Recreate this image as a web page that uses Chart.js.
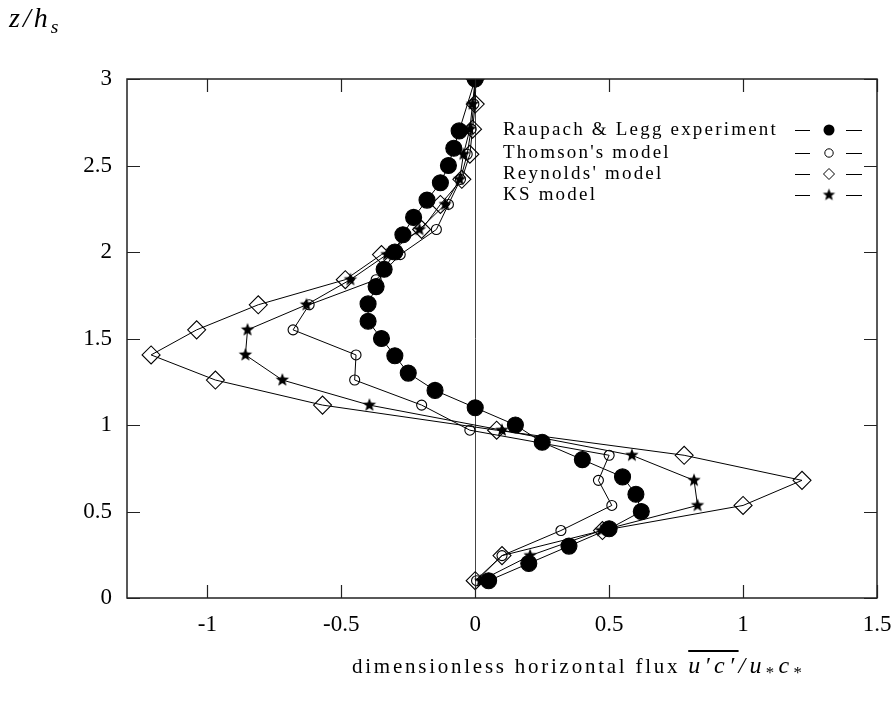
<!DOCTYPE html>
<html>
<head>
<meta charset="utf-8">
<script src="https://cdn.jsdelivr.net/npm/chart.js@4/dist/chart.umd.min.js"></script>
<style>
  html, body { margin: 0; padding: 0; background: #fff; }
  #wrap { position: relative; width: 895px; height: 702px; }
  canvas { position: absolute; left: 0; top: 0; }
  .ttl { position: absolute; font-family: 'Liberation Serif', 'DejaVu Serif', serif; color: #000; white-space: nowrap; }
  .ttl sub { font-size: 0.7em; vertical-align: -0.3em; }
  .ol { text-decoration: overline; }
  .math { font-size: 24px; letter-spacing: 4.3px; }
</style>
</head>
<body>
<div id="wrap">
  <canvas id="c" width="895" height="702"></canvas>
  <div class="ttl" id="ytitle" style="left:9px; top:2px; font-size:28px; font-style:italic; letter-spacing:3px;">z/h<sub>s</sub></div>
  <div class="ttl" id="xtitle" style="left:352px; top:652px; font-size:21px; letter-spacing:2.75px;">dimensionless horizontal flux <span class="math"><i class="ol">u′c′</i><i>/u</i><sub>*</sub><i>c</i><sub>*</sub></span></div>
</div>
<script>
// ---- data ----
const zRaupach = [0.1, 0.2, 0.3, 0.4, 0.5, 0.6, 0.7, 0.8, 0.9, 1.0, 1.1, 1.2, 1.3, 1.4, 1.5, 1.6, 1.7, 1.8, 1.9, 2.0, 2.1, 2.2, 2.3, 2.4, 2.5, 2.6, 2.7, 3.0];
const xRaupach = [0.05, 0.20, 0.35, 0.50, 0.62, 0.60, 0.55, 0.40, 0.25, 0.15, 0.0, -0.15, -0.25, -0.30, -0.35, -0.40, -0.40, -0.37, -0.34, -0.30, -0.27, -0.23, -0.18, -0.13, -0.10, -0.08, -0.06, 0.0];

const zModel = [0.10, 0.245, 0.39, 0.535, 0.68, 0.825, 0.97, 1.115, 1.26, 1.405, 1.55, 1.695, 1.84, 1.985, 2.13, 2.275, 2.42, 2.565, 2.71, 2.855, 3.0];
const xThomson  = [0.005, 0.10, 0.32, 0.51, 0.46, 0.50, -0.02, -0.20, -0.45, -0.445, -0.68, -0.62, -0.37, -0.28, -0.145, -0.10, -0.055, -0.03, -0.015, -0.005, 0.0];
const xReynolds = [0.0, 0.10, 0.475, 1.0, 1.22, 0.78, 0.08, -0.57, -0.97, -1.21, -1.04, -0.81, -0.485, -0.35, -0.20, -0.13, -0.05, -0.02, -0.01, 0.0, 0.0];
const xKS       = [0.02, 0.205, 0.47, 0.83, 0.817, 0.585, 0.10, -0.395, -0.72, -0.858, -0.85, -0.63, -0.466, -0.33, -0.208, -0.112, -0.058, -0.044, -0.02, -0.01, 0.0];

const seriesNames = ["Raupach & Legg experiment", "Thomson's model", "Reynolds' model", "KS model"];
const xTicks = [-1, -0.5, 0, 0.5, 1, 1.5];
const yTicks = [0, 0.5, 1, 1.5, 2, 2.5, 3];
const xMin = -1.3, xMax = 1.5, yMin = 0, yMax = 3;

// ---- helpers ----
function pairs(xs, zs) { return xs.map((v, i) => ({ x: v, y: zs[i] })); }
function makeStar(r) {
  const s = Math.ceil(r * 2 + 2);
  const c = document.createElement('canvas');
  c.width = s; c.height = s;
  const g = c.getContext('2d');
  g.beginPath();
  for (let i = 0; i < 10; i++) {
    const a = -Math.PI / 2 + i * Math.PI / 5;
    const rr = (i % 2) ? r * 0.42 : r;
    g.lineTo(s / 2 + rr * Math.cos(a), s / 2 + rr * Math.sin(a));
  }
  g.closePath();
  g.fillStyle = '#000';
  g.fill();
  return c;
}
const starImg = makeStar(7);
const legendStar = makeStar(6.5);
const FONT = "'Liberation Serif', 'DejaVu Serif', serif";

const lineBase = { showLine: true, borderColor: '#000', borderWidth: 1, pointBorderColor: '#000', pointBorderWidth: 1.1, fill: false, tension: 0 };

const datasets = [
  Object.assign({}, lineBase, { label: seriesNames[0], data: pairs(xRaupach, zRaupach), pointStyle: 'circle', pointRadius: 8, pointBackgroundColor: '#000' }),
  Object.assign({}, lineBase, { label: seriesNames[1], data: pairs(xThomson, zModel), pointStyle: 'circle', pointRadius: 5, pointBackgroundColor: 'rgba(0,0,0,0)' }),
  Object.assign({}, lineBase, { label: seriesNames[2], data: pairs(xReynolds, zModel), pointStyle: 'rectRot', pointRadius: 9, pointBackgroundColor: 'rgba(0,0,0,0)' }),
  Object.assign({}, lineBase, { label: seriesNames[3], data: pairs(xKS, zModel), pointStyle: starImg, pointRadius: 7, pointBackgroundColor: '#000' })
];

// ---- plugins ----
const framePlugin = {
  id: 'frame',
  beforeDatasetsDraw(chart) {
    const { ctx, chartArea: a, scales } = chart;
    const x0 = scales.x.getPixelForValue(0);
    ctx.save();
    ctx.strokeStyle = '#444';
    ctx.lineWidth = 1;
    ctx.beginPath();
    ctx.moveTo(Math.round(x0) + 0.5, a.top);
    ctx.lineTo(Math.round(x0) + 0.5, a.bottom);
    ctx.stroke();
    ctx.restore();
  },
  afterDatasetsDraw(chart) {
    const { ctx, chartArea: a, scales } = chart;
    const tl = 13;
    ctx.save();
    ctx.strokeStyle = '#222';
    ctx.lineWidth = 1.5;
    ctx.strokeRect(a.left, a.top, a.right - a.left, a.bottom - a.top);
    ctx.lineWidth = 1.2;
    ctx.beginPath();
    xTicks.forEach(v => {
      const px = Math.round(scales.x.getPixelForValue(v)) + 0.5;
      ctx.moveTo(px, a.bottom); ctx.lineTo(px, a.bottom - tl);
      ctx.moveTo(px, a.top); ctx.lineTo(px, a.top + tl);
    });
    yTicks.forEach(v => {
      const py = Math.round(scales.y.getPixelForValue(v)) + 0.5;
      ctx.moveTo(a.left, py); ctx.lineTo(a.left + tl, py);
      ctx.moveTo(a.right, py); ctx.lineTo(a.right - tl, py);
    });
    ctx.stroke();
    ctx.restore();
  }
};

const legendPlugin = {
  id: 'customLegend',
  afterDraw(chart) {
    const { ctx } = chart;
    const rowsY = [130, 153, 174, 195];
    const textX = 503;
    const d1a = 795, d1b = 810, mx = 829, d2a = 846, d2b = 862;
    ctx.save();
    ctx.font = "19px " + FONT;
    try { ctx.letterSpacing = '2.2px'; } catch (e) {}
    ctx.fillStyle = '#000';
    ctx.textBaseline = 'middle';
    ctx.textAlign = 'left';
    seriesNames.forEach((name, i) => {
      const y = rowsY[i];
      ctx.fillText(name, textX, y);
      ctx.strokeStyle = '#000';
      ctx.lineWidth = 1;
      ctx.beginPath();
      ctx.moveTo(d1a, y + 0.5); ctx.lineTo(d1b, y + 0.5);
      ctx.moveTo(d2a, y + 0.5); ctx.lineTo(d2b, y + 0.5);
      ctx.stroke();
      ctx.beginPath();
      if (i === 0) {
        ctx.arc(mx, y, 5.5, 0, Math.PI * 2); ctx.fill();
      } else if (i === 1) {
        ctx.arc(mx, y, 4.2, 0, Math.PI * 2); ctx.stroke();
      } else if (i === 2) {
        ctx.moveTo(mx, y - 5.5); ctx.lineTo(mx + 5.5, y); ctx.lineTo(mx, y + 5.5); ctx.lineTo(mx - 5.5, y); ctx.closePath(); ctx.stroke();
      } else {
        ctx.drawImage(legendStar, mx - legendStar.width / 2, y - legendStar.height / 2);
      }
    });
    ctx.restore();
  }
};

// ---- chart ----
new Chart(document.getElementById('c'), {
  type: 'scatter',
  data: { datasets },
  options: {
    responsive: false,
    animation: false,
    devicePixelRatio: 1,
    layout: { padding: { top: 79, right: 18, left: 0, bottom: 0 } },
    plugins: { legend: { display: false }, tooltip: { enabled: false } },
    scales: {
      x: {
        type: 'linear', min: xMin, max: xMax,
        grid: { display: false, drawTicks: false },
        border: { display: false },
        afterBuildTicks: s => { s.ticks = xTicks.map(v => ({ value: v })); },
        afterFit: s => { s.height = 104; s.paddingLeft = 0; s.paddingRight = 0; },
        ticks: { color: '#000', font: { family: FONT, size: 23 }, padding: 13, maxRotation: 0, autoSkip: false, callback: v => String(v) }
      },
      y: {
        type: 'linear', min: yMin, max: yMax,
        grid: { display: false, drawTicks: false },
        border: { display: false },
        afterBuildTicks: s => { s.ticks = yTicks.map(v => ({ value: v })); },
        afterFit: s => { s.width = 127; s.paddingTop = 0; s.paddingBottom = 0; },
        ticks: { color: '#000', font: { family: FONT, size: 23 }, padding: 15, autoSkip: false, callback: v => String(v) }
      }
    }
  },
  plugins: [framePlugin, legendPlugin]
});
</script>
</body>
</html>
